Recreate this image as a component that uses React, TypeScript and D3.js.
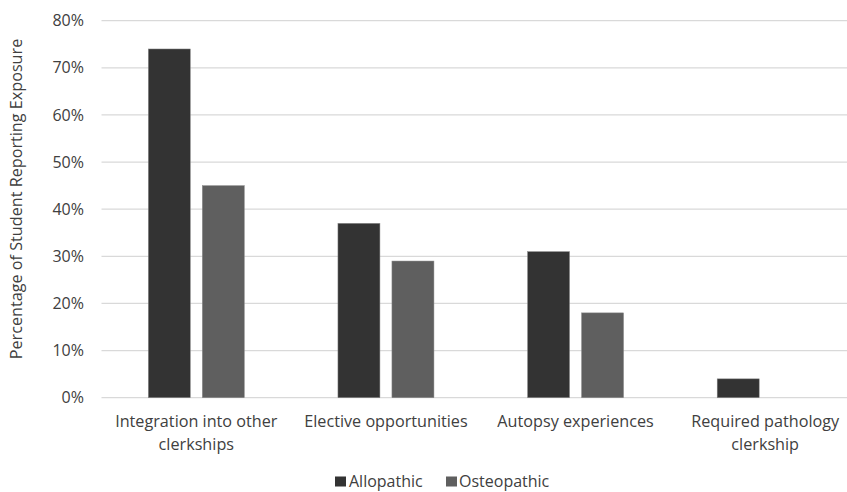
import React from "react";
import * as d3 from "d3";

const categories = [
  ["Integration into other", "clerkships"],
  ["Elective opportunities"],
  ["Autopsy experiences"],
  ["Required pathology", "clerkship"],
];
const seriesNames = ["Allopathic", "Osteopathic"];
const allopathic = [74, 37, 31, 4];
const osteopathic = [45, 29, 18, 0];
const yTicks = [0, 10, 20, 30, 40, 50, 60, 70, 80];
const colors = ["#333333", "#5f5f5f"];

const W = 847;
const H = 492;
const FONT = "'Open Sans', sans-serif";

export default function App() {
  const x0 = d3
    .scaleBand<number>()
    .domain(d3.range(categories.length))
    .range([101.5, 860]);
  const x1 = d3
    .scaleBand<number>()
    .domain([0, 1])
    .range([0, 96])
    .paddingInner(12 / 54);
  const y = d3.scaleLinear().domain([0, 80]).range([397.7, 20.7]);
  const series = [allopathic, osteopathic];

  return (
    <svg
      width={W}
      height={H}
      style={{ position: "absolute", left: 0, top: 0, background: "#fff" }}
      fontFamily={FONT}
    >
      {yTicks.map((t) => (
        <g key={t}>
          <line
            x1={101.5}
            x2={W}
            y1={y(t)}
            y2={y(t)}
            stroke="#d9d9d9"
            strokeWidth={1.3}
          />
          <text
            x={84}
            y={y(t)}
            dy="0.35em"
            textAnchor="end"
            fontSize={16}
            fill="#404040"
          >
            {t}%
          </text>
        </g>
      ))}
      {categories.map((c, i) => {
        const gx = x0(i)! + (x0.bandwidth() - 96) / 2;
        return (
          <g key={i}>
            {series.map((s, j) =>
              s[i] > 0 ? (
                <rect
                  key={j}
                  x={gx + x1(j)!}
                  y={y(s[i])}
                  width={x1.bandwidth()}
                  height={y(0) - y(s[i])}
                  fill={colors[j]}
                  stroke="#8a8a8a"
                  strokeWidth={0.5}
                />
              ) : null
            )}
            {c.map((line, k) => (
              <text
                key={k}
                x={x0(i)! + x0.bandwidth() / 2}
                y={421.5 + k * 23}
                dy="0.35em"
                textAnchor="middle"
                fontSize={16.2}
                fill="#404040"
              >
                {line}
              </text>
            ))}
          </g>
        );
      })}
      <text
        transform={`translate(16.5, 199) rotate(-90)`}
        textAnchor="middle"
        dy="0.35em"
        fontSize={16.2}
        fill="#404040"
      >
        Percentage of Student Reporting Exposure
      </text>
      <g>
        <rect x={335} y={476.5} width={11} height={10} fill={colors[0]} />
        <text x={349} y={481.5} dy="0.35em" fontSize={16} fill="#404040">
          {seriesNames[0]}
        </text>
        <rect x={446} y={476.5} width={11} height={10} fill={colors[1]} />
        <text x={459} y={481.5} dy="0.35em" fontSize={16} fill="#404040">
          {seriesNames[1]}
        </text>
      </g>
    </svg>
  );
}
